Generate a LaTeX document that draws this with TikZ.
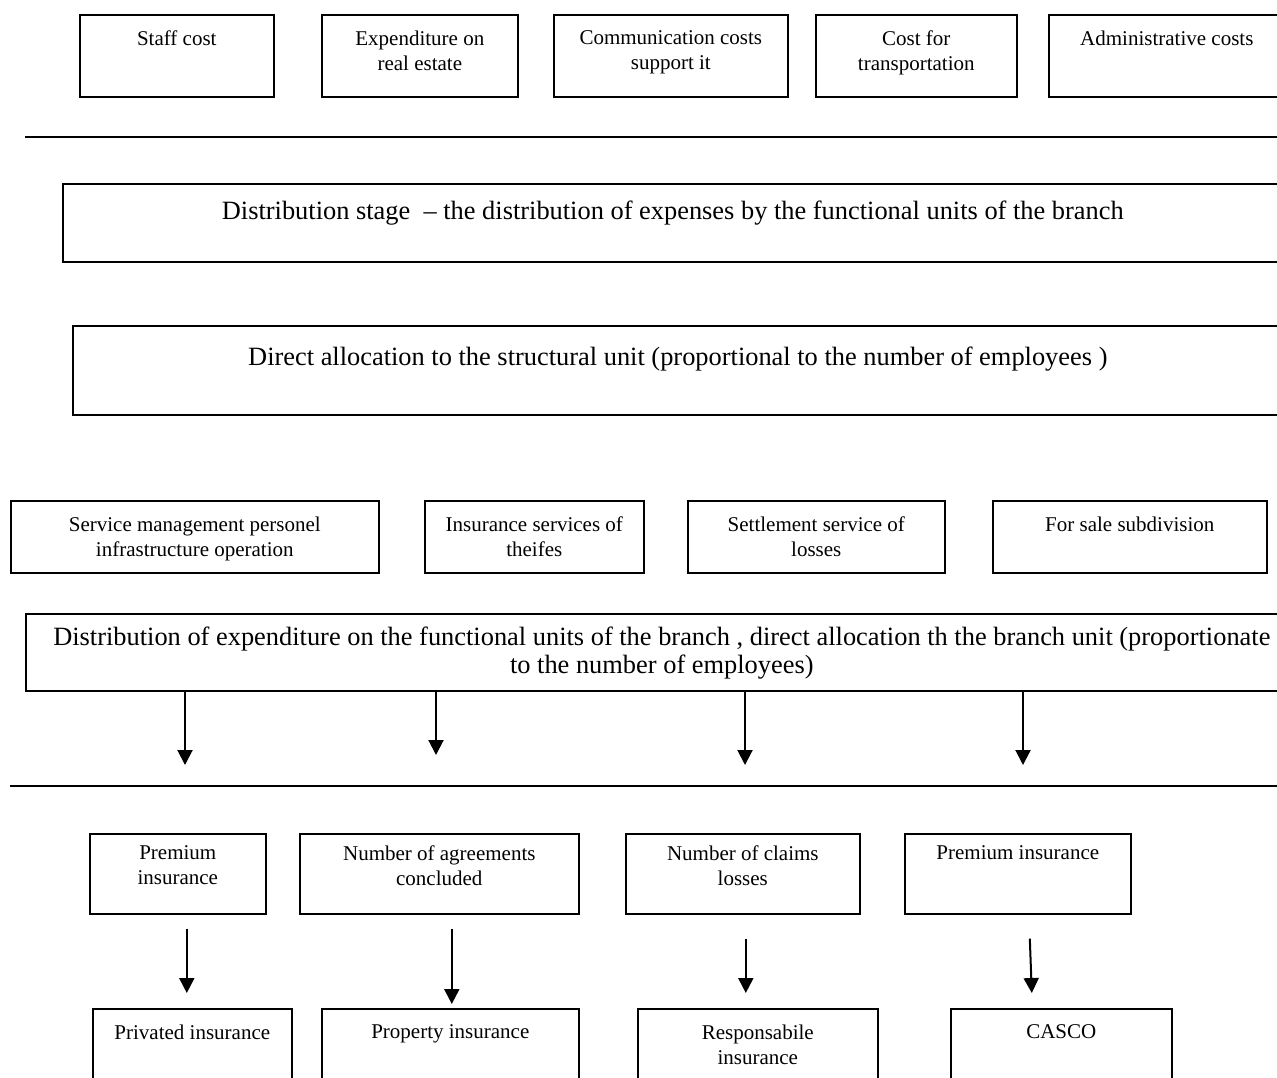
\documentclass[tikz,border=0pt]{standalone}
\usepackage{fontspec}
\setmainfont{Liberation Serif}
\usetikzlibrary{arrows.meta}

\tikzset{
  box/.style={draw, line width=.8pt, anchor=north west, inner sep=0pt},
  lbl/.style={anchor=north, yshift=#1, inner sep=0pt, align=center,
    font=\fontsize{10.5}{12.5}\selectfont},
  lbl/.default=-8.3pt,
  top/.style={label={[lbl]north:#1}},
  big/.style={font=\fontsize{13.2}{14}\selectfont},
  arr/.style={line width=1pt, -{Triangle[length=7.5pt,width=7.5pt]}},
  rule/.style={line width=1.1pt},
}

\begin{document}
\begin{tikzpicture}[x=.5pt, y=-.5pt]
    \path[use as bounding box, fill=white] (0,0) rectangle (1277,1077);
    % Kinds of expenses
    \node[box, minimum width=97pt, minimum height=41pt, top={Staff cost}] (staff) at (79,14) {};
    \node[box, minimum width=98pt, minimum height=41pt, top={Expenditure on\\real estate}] (estate) at (321,14) {};
    \node[box, minimum width=117pt, minimum height=41pt, top={Communication costs\\support it}] (comm) at (553,14) {};
    \node[box, minimum width=100.5pt, minimum height=41pt, top={Cost for\\transportation}] (transp) at (815,14) {};
    \node[box, minimum width=118pt, minimum height=41pt, top={Administrative costs}] (admin) at (1048,14) {};
    \draw[rule] (25,137) -- (1277,137);
    % Stages
    \node[box, minimum width=610pt, minimum height=39pt,
      label={[lbl=-9pt, big]north:Distribution stage~ – the distribution of expenses by the functional units of the branch}] (stage) at (62,183) {};
    \node[box, minimum width=605pt, minimum height=44.5pt,
      label={[lbl=-10.5pt, big]north:Direct allocation to the structural unit (proportional to the number of employees )}] (direct) at (72,325) {};
    % Functional units
    \node[box, minimum width=184pt, minimum height=36pt, top={Service management personel\\infrastructure operation}] (service) at (10,500) {};
    \node[box, minimum width=109.5pt, minimum height=36pt, top={Insurance services of\\theifes}] (theft) at (424,500) {};
    \node[box, minimum width=128.5pt, minimum height=36pt, top={Settlement service of\\losses}] (settle) at (687,500) {};
    \node[box, minimum width=137pt, minimum height=36pt, top={For sale subdivision}] (sale) at (992,500) {};
    \node[box, minimum width=636pt, minimum height=38.5pt,
      label={[lbl=-6.5pt, big]north:Distribution of expenditure on the functional units of the branch , direct allocation th the branch unit (proportionate\\to the number of employees)}] (big) at (25,613) {};
    \foreach \x/\y in {185/765,436/755,745/765,1023/765}
        \draw[arr] (big.south -| \x,0) -- (\x,\y);
    \draw[rule] (10,786) -- (1277,786);
    % Allocation keys
    \node[box, minimum width=88pt, minimum height=40pt, label={[lbl=-6.3pt]north:Premium\\insurance}] (prem1) at (89,833) {};
    \node[box, minimum width=139.5pt, minimum height=40pt, label={[lbl=-6.3pt]north:Number of agreements\\concluded}] (agree) at (299,833) {};
    \node[box, minimum width=117pt, minimum height=40pt, label={[lbl=-6.3pt]north:Number of claims\\losses}] (claims) at (625,833) {};
    \node[box, minimum width=113pt, minimum height=40pt, label={[lbl=-6.3pt]north:Premium insurance}] (prem2) at (904,833) {};
    % Lines of insurance
    \node[box, minimum width=99.5pt, minimum height=45pt, top={Privated insurance}] (priv) at (92,1008) {};
    \node[box, minimum width=128.5pt, minimum height=45pt, top={Property insurance}] (prop) at (321,1008) {};
    \node[box, minimum width=120pt, minimum height=45pt, top={Responsabile\\insurance}] (resp) at (637,1008) {};
    \node[box, minimum width=110.5pt, minimum height=45pt, top={CASCO}] (casco) at (950,1008) {};
    \draw[arr] ([xshift=4.5pt,yshift=-7pt]prem1.south) -- ([xshift=-2.75pt,yshift=7.5pt]priv.north);
    \draw[arr] ([xshift=6.25pt,yshift=-7pt]agree.south) -- ([xshift=.75pt,yshift=2pt]prop.north);
    \draw[arr] ([xshift=1.5pt,yshift=-12pt]claims.south) -- ([xshift=-6pt,yshift=7.5pt]resp.north);
    \draw[arr] ([xshift=6pt,yshift=-12pt]prem2.south) -- ([xshift=-14.75pt,yshift=7.5pt]casco.north);
\end{tikzpicture}
\end{document}
